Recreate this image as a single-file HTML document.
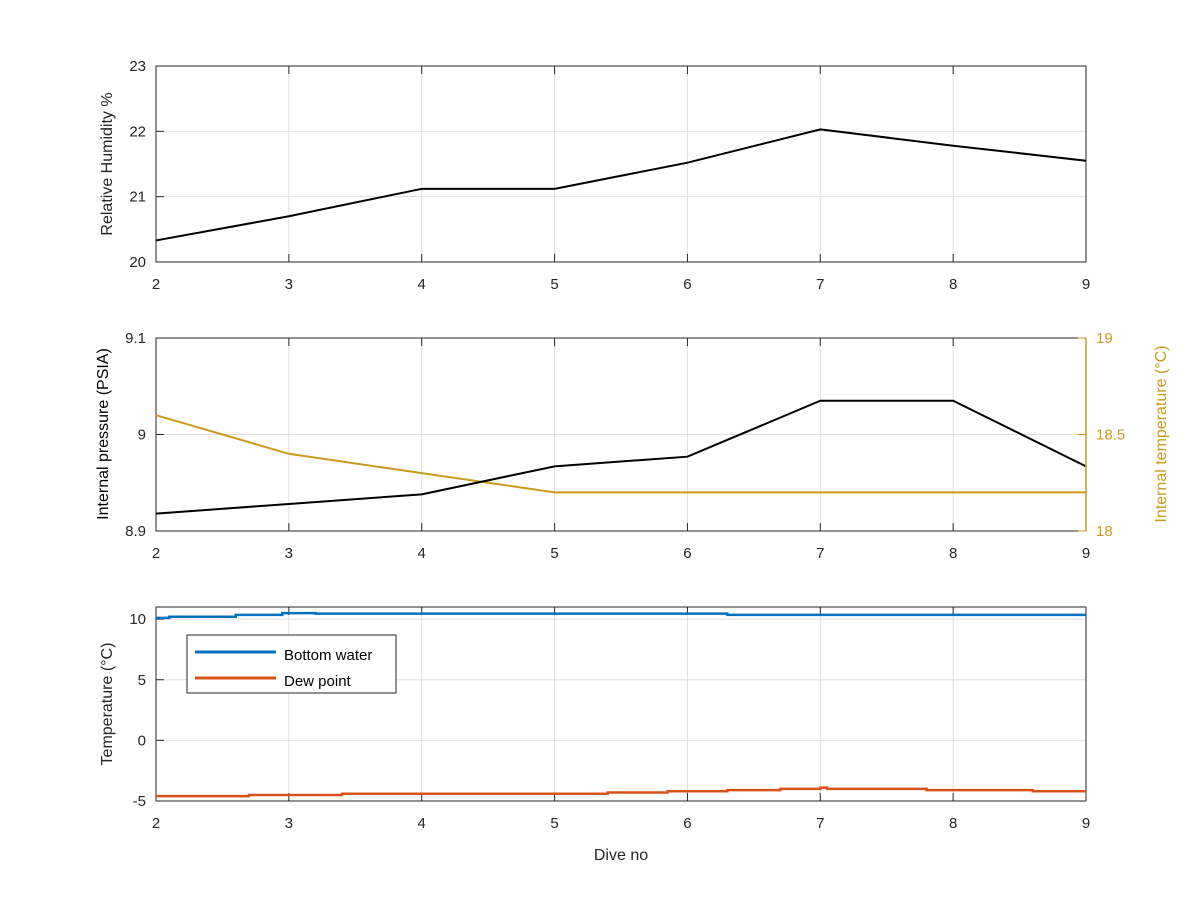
<!DOCTYPE html>
<html><head><meta charset="utf-8"><style>
body{margin:0;background:#fff}
svg{font-family:"Liberation Sans",Arial,sans-serif}
</style></head><body>
<svg id="c" width="1200" height="900" xmlns="http://www.w3.org/2000/svg"></svg>
<script>
const dives=[2,3,4,5,6,7,8,9];
const humidity=[20.33,20.7,21.12,21.12,21.52,22.03,21.78,21.55];
const pressure=[8.918,8.928,8.938,8.967,8.977,9.035,9.035,8.967];
const intTemp=[18.6,18.4,18.3,18.2,18.2,18.2,18.2,18.2];
const bwX=[2,2.1,2.1,2.6,2.6,2.95,2.95,3.2,3.2,6.3,6.3,9];
const bwY=[10.1,10.1,10.2,10.2,10.35,10.35,10.5,10.5,10.45,10.45,10.35,10.35];
const dpX=[2,2.7,2.7,3.4,3.4,5.4,5.4,5.85,5.85,6.3,6.3,6.7,6.7,7,7,7.05,7.05,7.8,7.8,8.6,8.6,9];
const dpY=[-4.6,-4.6,-4.5,-4.5,-4.4,-4.4,-4.3,-4.3,-4.2,-4.2,-4.1,-4.1,-4.0,-4.0,-3.9,-3.9,-4.0,-4.0,-4.1,-4.1,-4.2,-4.2];
const xTicks=[2,3,4,5,6,7,8,9];
const svg=document.getElementById('c');
const NS='http://www.w3.org/2000/svg';
function mk(t,a,p){const e=document.createElementNS(NS,t);for(const k in a)e.setAttribute(k,a[k]);(p||svg).appendChild(e);return e;}
const X0=156,X1=1086;
const sx=v=>X0+(v-2)/(9-2)*(X1-X0);
function axes(name,top,bot,ymin,ymax,yt,ytl){
  const sy=v=>bot-(v-ymin)/(ymax-ymin)*(bot-top);
  const g=mk('g',{});
  
  
  xTicks.forEach(t=>{mk('line',{x1:sx(t),x2:sx(t),y1:top,y2:bot,stroke:'#dfdfdf'},g);
    const tx=mk('text',{x:sx(t),y:bot+27,'text-anchor':'middle','font-size':15,fill:'#262626'},g);tx.textContent=t;
    mk('line',{x1:sx(t),x2:sx(t),y1:bot,y2:bot-8,stroke:'#262626'},g);mk('line',{x1:sx(t),x2:sx(t),y1:top,y2:top+8,stroke:'#262626'},g);});
  yt.forEach((t,i)=>{mk('line',{x1:X0,x2:X1,y1:sy(t),y2:sy(t),stroke:'#dfdfdf'},g);
    const tx=mk('text',{x:X0-10,y:sy(t)+5,'text-anchor':'end','font-size':15,fill:'#262626'},g);tx.textContent=ytl[i];
    mk('line',{x1:X0,x2:X0+8,y1:sy(t),y2:sy(t),stroke:'#262626'},g);});
  mk('rect',{x:X0,y:top,width:X1-X0,height:bot-top,fill:'none',stroke:'#262626'},g);
  return {sy,g};
}
function line(g,xs,ys,sy,col,w,name){const p=mk('polyline',{points:xs.map((x,i)=>sx(x)+','+sy(ys[i])).join(' '),fill:'none',stroke:col,'stroke-width':w},g);}
function label(txt,x,y,col,name){const t=mk('text',{x:x,y:y,transform:`rotate(-90 ${x} ${y})`,'text-anchor':'middle','font-size':16,fill:col});t.textContent=txt;}
// top
let a=axes('humidity-axes',66,262,20,23,[20,21,22,23],['20','21','22','23']);
line(a.g,dives,humidity,a.sy,'#000',2,'humidity-line');
label('Relative Humidity %',112,164,'#262626','humidity-y-title');
// middle
a=axes('pressure-axes',338,531,8.9,9.1,[8.9,9,9.1],['8.9','9','9.1']);
const sy2=v=>531-(v-18)/(19-18)*(531-338);
const oc='#c99a1e';
mk('line',{x1:X1,x2:X1,y1:338,y2:531,stroke:oc,'stroke-width':1.5});
[18,18.5,19].forEach(t=>{mk('line',{x1:X1-8,x2:X1,y1:sy2(t),y2:sy2(t),stroke:oc});const tx=mk('text',{x:X1+10,y:sy2(t)+5,'font-size':15,fill:oc});tx.textContent=t;});
line(a.g,dives,intTemp,sy2,oc,2,'internal-temp-line');
line(a.g,dives,pressure,a.sy,'#000',2,'pressure-line');
label('Internal pressure (PSIA)',108,434,'#000','pressure-y-title');
label('Internal temperature (°C)',1166,434,oc,'temp-y2-title');
// bottom
a=axes('temperature-axes',607,801,-5,11,[-5,0,5,10],['-5','0','5','10']);
line(a.g,bwX,bwY,a.sy,'#0072bd',2.5,'bottom-water-line');
line(a.g,dpX,dpY,a.sy,'#d95319',2.5,'dew-point-line');
label('Temperature (°C)',112,704,'#262626','temperature-y-title');
const xl=mk('text',{x:621,y:860,'text-anchor':'middle','font-size':16,fill:'#262626'});xl.textContent='Dive no';

// legend
const lg=mk('g',{});

mk('rect',{x:187,y:635,width:209,height:58,fill:'#fff',stroke:'#262626'},lg);
mk('line',{x1:195,x2:276,y1:652,y2:652,stroke:'#0072bd','stroke-width':3},lg);
mk('line',{x1:195,x2:276,y1:678,y2:678,stroke:'#d95319','stroke-width':3},lg);
let t=mk('text',{x:284,y:660,'font-size':15,fill:'#000'},lg);t.textContent='Bottom water';
t=mk('text',{x:284,y:686,'font-size':15,fill:'#000'},lg);t.textContent='Dew point';
</script>
</body></html>
